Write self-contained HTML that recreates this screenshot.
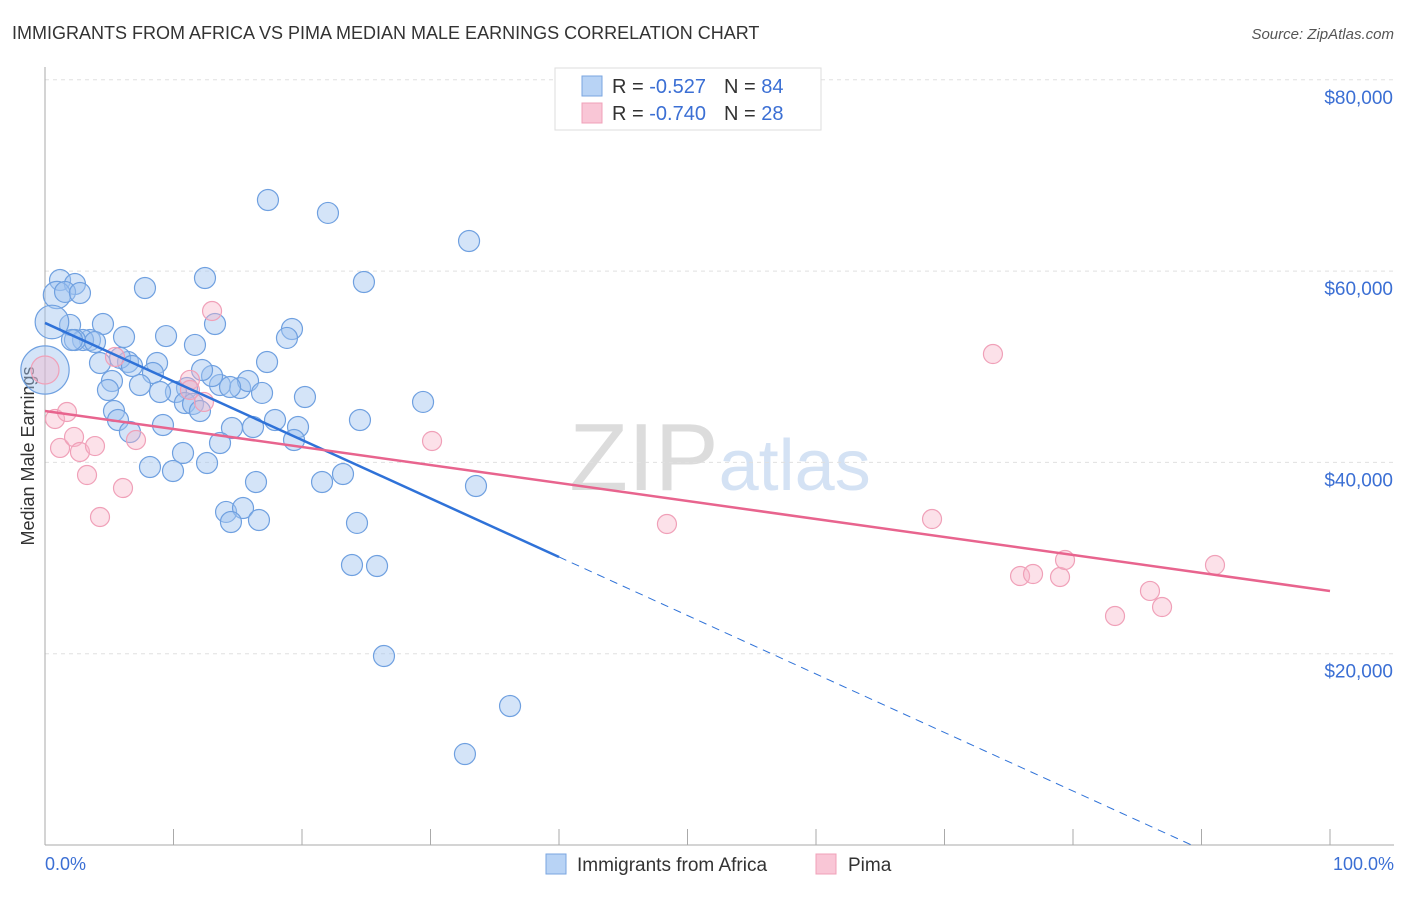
<!DOCTYPE html>
<html><head><meta charset="utf-8"><style>
body{margin:0;background:#fff;font-family:"Liberation Sans",sans-serif}
svg text{font-family:"Liberation Sans",sans-serif}
</style></head><body>
<svg id="chart" width="1406" height="892" xmlns="http://www.w3.org/2000/svg">
<text x="12" y="39" font-size="18" fill="#333">IMMIGRANTS FROM AFRICA VS PIMA MEDIAN MALE EARNINGS CORRELATION CHART</text>
<text x="1394" y="39" font-size="15" fill="#555" text-anchor="end" font-style="italic">Source: ZipAtlas.com</text>
<text x="720" y="490" font-size="96" fill="#e4e8ee" text-anchor="middle" font-family="Liberation Serif"><tspan fill="#dcdcdc">ZIP</tspan><tspan fill="#d4e2f4" font-family="Liberation Sans" font-size="72">atlas</tspan></text>
<g id="grid"></g>
<line x1="45" y1="67" x2="45" y2="845" stroke="#aaa"/>
<line x1="45" y1="845" x2="1394" y2="845" stroke="#aaa"/>
<g id="xticks"></g>
<text transform="translate(34,456) rotate(-90)" font-size="18" fill="#333" text-anchor="middle">Median Male Earnings</text>
<text x="45" y="870" font-size="18" fill="#3b6fd4">0.0%</text>
<text x="1394" y="870" font-size="18" fill="#3b6fd4" text-anchor="end">100.0%</text>
<g id="points"></g>
<g id="trends"></g>
<g>
<rect x="555" y="68" width="266" height="62" fill="#fff" stroke="#ddd"/>
<rect x="582" y="76" width="20" height="20" fill="#b8d3f5" stroke="#7aa6e0"/>
<rect x="582" y="103" width="20" height="20" fill="#f9c6d6" stroke="#f0a0b8"/>
<text x="612" y="93" font-size="20" fill="#333">R = <tspan fill="#3b6fd4">-0.527</tspan><tspan dx="18">N = </tspan><tspan fill="#3b6fd4">84</tspan></text>
<text x="612" y="120" font-size="20" fill="#333">R = <tspan fill="#3b6fd4">-0.740</tspan><tspan dx="18">N = </tspan><tspan fill="#3b6fd4">28</tspan></text>
</g>
<g>
<rect x="546" y="854" width="20" height="20" fill="#b8d3f5" stroke="#7aa6e0"/>
<text x="577" y="871" font-size="19" fill="#333">Immigrants from Africa</text>
<rect x="816" y="854" width="20" height="20" fill="#f9c6d6" stroke="#f0a0b8"/>
<text x="848" y="871" font-size="19" fill="#333">Pima</text>
</g>
</svg>
<script>
const yTicks=[20000,40000,60000,80000];
const yTickLabels=["$20,000","$40,000","$60,000","$80,000"];
const xTicks=[0,10,20,30,40,50,60,70,80,90,100];
const africaX=[1.17,2.33,0.93,1.56,2.72,1.95,0.54,0,4.51,6.15,9.42,7.78,12.45,13.23,11.67,17.35,22.02,33.0,24.82,19.22,18.83,17.28,15.18,15.8,16.89,13.62,14.4,13.0,12.22,11.05,10.19,10.89,11.52,12.06,8.72,8.4,7.39,8.95,6.46,5.84,5.21,4.9,4.28,6.77,3.5,2.96,3.89,2.33,2.1,5.37,5.68,6.61,9.18,14.55,16.19,13.62,17.9,19.69,19.38,20.23,24.51,29.42,10.74,8.17,9.96,12.61,16.42,21.56,23.19,14.09,15.41,14.47,16.65,24.28,33.54,23.89,25.84,26.38,36.19,32.68];
const africaY=[59070,58650,57500,57820,57710,54370,54680,49660,54470,53110,53210,58230,59280,54470,52280,67430,66080,63150,58860,53950,53010,50500,47780,48510,47260,48090,47880,49030,49660,47780,47360,46210,46110,45370,50390,49350,48090,47360,50500,50920,48510,47570,50390,50080,52800,52800,52590,52800,52800,45370,44430,43180,43910,43600,43700,42030,44430,43700,42340,46840,44430,46320,40980,39520,39100,39940,37950,37950,38790,34820,35230,33770,33980,33670,37530,29270,29170,19760,14530,9510];
const africaSize=[1,1,1.3,1,1,1,1.6,2.3,1,1,1,1,1,1,1,1,1,1,1,1,1,1,1,1,1,1,1,1,1,1,1,1,1,1,1,1,1,1,1,1,1,1,1,1,1,1,1,1,1,1,1,1,1,1,1,1,1,1,1,1,1,1,1,1,1,1,1,1,1,1,1,1,1,1,1,1,1,1,1,1];
const pimaX=[0,0.78,1.71,1.17,2.26,2.72,3.89,3.27,6.07,4.28,5.45,7.08,11.28,11.28,12.37,13.0,30.12,48.4,69.03,73.77,75.88,76.89,78.99,79.38,83.27,85.99,86.93,91.05];
const pimaY=[49660,44540,45270,41510,42660,41090,41710,38680,37320,34290,51020,42340,48620,47570,46320,55830,42240,33560,34080,51330,28120,28330,28020,29800,23940,26560,24880,29270];
const africaTrend=[54580,-611.7];
const pimaTrend=[45370,-188.1];
const NS="http://www.w3.org/2000/svg";
const X=v=>45+v*12.85, Y=v=>845-v*191.3/20000;
function mk(tag,attrs,parent){const e=document.createElementNS(NS,tag);for(const k in attrs)e.setAttribute(k,attrs[k]);parent.appendChild(e);return e;}
const grid=document.getElementById('grid');
yTicks.forEach((t,i)=>{
 const l=mk('line',{x1:45,x2:1394,y1:Y(t),y2:Y(t),stroke:'#e0e0e0','stroke-dasharray':'4,4'},grid);
 
 
 const tx=mk('text',{x:1393,y:Y(t)+24,'font-size':19,fill:'#3b6fd4','text-anchor':'end'},grid);
 tx.textContent=yTickLabels[i];
 
 
});
const xt=document.getElementById('xticks');
xTicks.forEach(t=>{
 const l=mk('line',{x1:X(t),x2:X(t),y1:829,y2:845,stroke:'#aaa'},xt);
 
 
});
const pts=document.getElementById('points');
africaX.forEach((x,i)=>{
 const c=mk('circle',{cx:X(x),cy:Y(africaY[i]),r:10.5*africaSize[i],fill:'rgba(160,196,240,0.45)',stroke:'#6fa0e0','stroke-width':1.2},pts);
 
 
});
pimaX.forEach((x,i)=>{
 const c=mk('circle',{cx:X(x),cy:Y(pimaY[i]),r:i==0?14:9.5,fill:'rgba(248,180,200,0.4)',stroke:'#f0a0b8','stroke-width':1.2},pts);
 
 
});
const tr=document.getElementById('trends');
const af=x=>africaTrend[0]+africaTrend[1]*x, pf=x=>pimaTrend[0]+pimaTrend[1]*x;
const zeroX=-africaTrend[0]/africaTrend[1];
let l1=mk('line',{x1:X(0),y1:Y(af(0)),x2:X(40),y2:Y(af(40)),stroke:'#2f72d8','stroke-width':2.5},tr);


let l2=mk('line',{x1:X(40),y1:Y(af(40)),x2:X(zeroX),y2:Y(0),stroke:'#2f72d8','stroke-width':1,'stroke-dasharray':'8,6'},tr);


let l3=mk('line',{x1:X(0),y1:Y(pf(0)),x2:X(100),y2:Y(pf(100)),stroke:'#e8648e','stroke-width':2.5},tr);


</script>
</body></html>
